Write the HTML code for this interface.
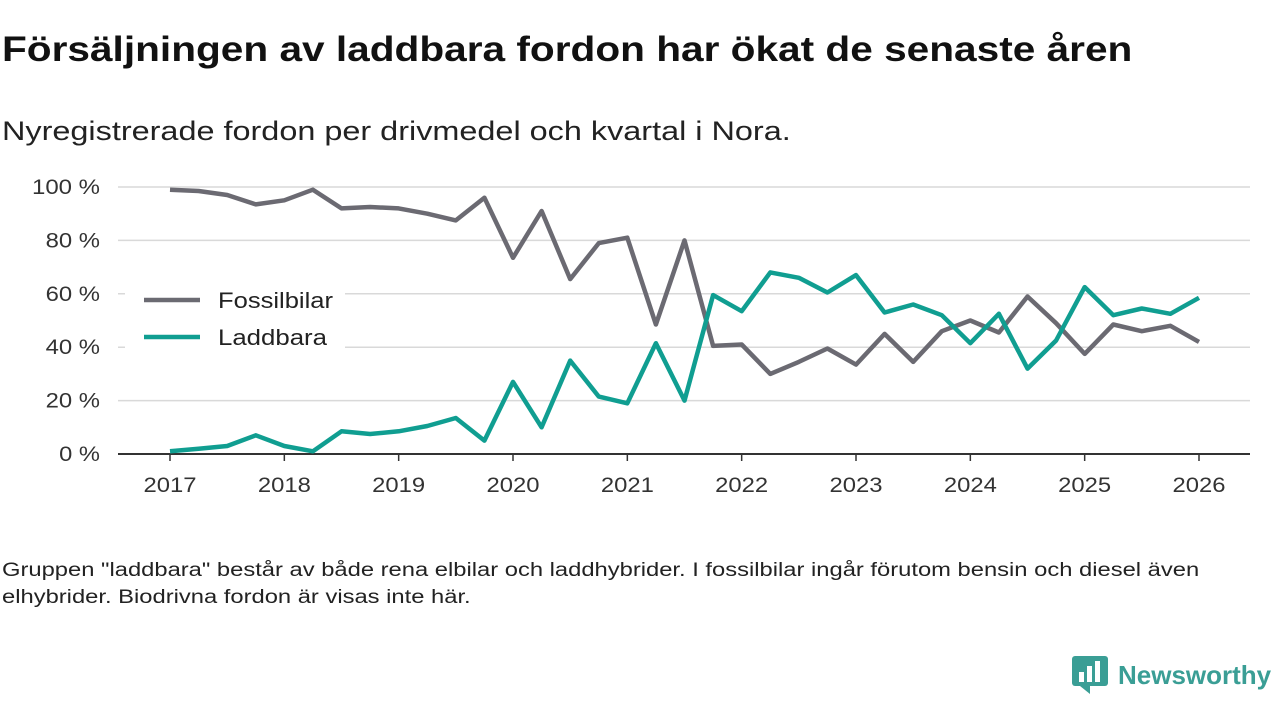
<!DOCTYPE html>
<html><head><meta charset="utf-8"><style>
body{margin:0;width:1280px;height:720px;background:#fff;font-family:"Liberation Sans",sans-serif;overflow:hidden;position:relative;color:#111}
#title{position:absolute;left:2px;top:30px;font-size:35px;font-weight:bold;margin:0;transform:scaleX(1.16);transform-origin:0 0;white-space:nowrap}
#sub{position:absolute;left:2px;top:116px;font-size:27px;color:#222;transform:scaleX(1.2);transform-origin:0 0;white-space:nowrap}
#note{position:absolute;left:2px;top:557px;font-size:19px;line-height:27px;width:1000px;color:#222;transform:scaleX(1.25);transform-origin:0 0;white-space:nowrap}
#logo{position:absolute;left:1072px;top:656px;display:flex;align-items:center}
#logo span{font-size:26px;font-weight:bold;color:#3a9e95;margin-left:10px}
svg text{font-family:"Liberation Sans",sans-serif}
</style></head><body>
<h1 id="title">Försäljningen av laddbara fordon har ökat de senaste åren</h1>
<div id="sub">Nyregistrerade fordon per drivmedel och kvartal i Nora.</div>
<svg id="chart" width="1280" height="720" style="position:absolute;left:0;top:0"></svg>
<div id="note">Gruppen "laddbara" består av både rena elbilar och laddhybrider. I fossilbilar ingår förutom bensin och diesel även<br>elhybrider. Biodrivna fordon är visas inte här.</div>
<div id="logo">
<svg width="36" height="38" viewBox="0 0 36 38"><rect x="0" y="0" width="36" height="30" rx="3" fill="#3a9e95"/><polygon points="8,30 18,38 18,30" fill="#3a9e95"/><rect x="7" y="16" width="5" height="10" fill="#fff"/><rect x="15" y="10" width="5" height="16" fill="#fff"/><rect x="23" y="5" width="5" height="21" fill="#fff"/></svg>
<span>Newsworthy</span></div>
<script>
const years=[2017,2018,2019,2020,2021,2022,2023,2024,2025,2026];
const yTicks=[0,20,40,60,80,100];
const fossil=[99,98.5,97,93.5,95,99,92,92.5,92,90,87.5,96,73.5,91,65.5,79,81,48.5,80,40.5,41,30,34.5,39.5,33.5,45,34.5,46,50,45.5,59,49,37.5,48.5,46,48,42];
const laddbara=[1,2,3,7,3,1,8.5,7.5,8.5,10.5,13.5,5,27,10,35,21.5,19,41.5,20,59.5,53.5,68,66,60.5,67,53,56,52,41.5,52.5,32,42.5,62.5,52,54.5,52.5,58.5];
const svg=document.getElementById('chart');const NS='http://www.w3.org/2000/svg';
const x=t=>170+(t-2017)*(1199-170)/9;
const y=v=>454-v*(454-187)/100;
function mk(tag,attrs,parent){const e=document.createElementNS(NS,tag);for(const k in attrs)e.setAttribute(k,attrs[k]);(parent||svg).appendChild(e);return e;}
yTicks.forEach(v=>{
  if(v>0){const l=mk('line',{x1:118,x2:1250,y1:y(v),y2:y(v),stroke:'#d9d9d9','stroke-width':1.5});
  
  }
  const s=v+' %';
  const t=mk('text',{x:100,y:y(v)+7,'text-anchor':'end','font-size':21,fill:'#333',textLength:s.length*13.6,lengthAdjust:'spacingAndGlyphs'});t.textContent=s;
  
  
});
const ax=mk('line',{x1:118,x2:1250,y1:454,y2:454,stroke:'#333','stroke-width':2});


years.forEach(yr=>{
  mk('line',{x1:x(yr),x2:x(yr),y1:454,y2:461,stroke:'#333','stroke-width':1.5});
  const t=mk('text',{x:x(yr),y:492,'text-anchor':'middle','font-size':21,fill:'#333',textLength:53,lengthAdjust:'spacingAndGlyphs'});t.textContent=yr;
  
  
});
function line(data,color,name){
  const d=data.map((v,i)=>(i?'L':'M')+x(2017+i/4).toFixed(1)+','+y(v).toFixed(1)).join('');
  const p=mk('path',{d:d,fill:'none',stroke:color,'stroke-width':4.5,'stroke-linejoin':'round'});
  
  
}
line(fossil,'#6b6a72','fossilbilar-line');
line(laddbara,'#109e91','laddbara-line');
[['Fossilbilar','#6b6a72',300,115],['Laddbara','#109e91',337,109]].forEach(([n,c,yy,w])=>{
  const g=mk('g',{});
  
  
  mk('rect',{x:125,y:yy-20,width:220,height:34,fill:'#fff'},g);
  mk('line',{x1:144,x2:200,y1:yy,y2:yy,stroke:c,'stroke-width':4.5},g);
  const t=mk('text',{x:218,y:yy+8,'font-size':22,fill:'#222',textLength:w,lengthAdjust:'spacingAndGlyphs'},g);t.textContent=n;
});
</script>
</body></html>
